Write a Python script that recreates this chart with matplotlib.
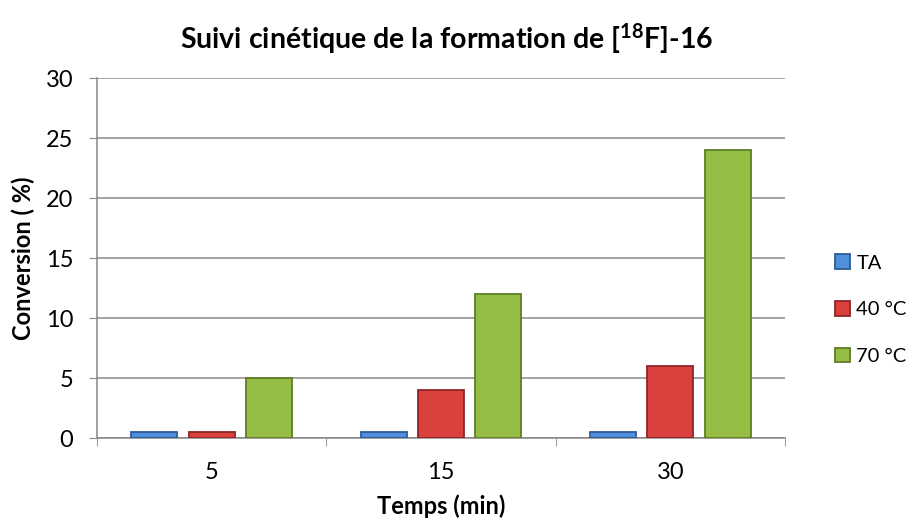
import numpy as np
import matplotlib
matplotlib.use("Agg")
import matplotlib.pyplot as plt

plt.rcParams['font.family'] = ['Lato', 'DejaVu Sans']
plt.rcParams['mathtext.fontset'] = 'custom'
plt.rcParams['mathtext.rm'] = 'Lato'
plt.rcParams['mathtext.bf'] = 'Lato:bold'

# data
temps = ['5', '15', '30']
series_names = ['TA', '40 °C', '70 °C']
ta = [0.5, 0.5, 0.5]
c40 = [0.5, 4, 6]
c70 = [5, 12, 24]
values = [ta, c40, c70]

face_colors = ['#4F8FDC', '#D9413F', '#96BE45']
edge_colors = ['#2E5C99', '#8E2624', '#5E7D25']

fig = plt.figure(figsize=(9.08, 5.25), dpi=100)
ax = fig.add_axes([0.1068, 0.1657, 0.7577, 0.6857])

x = np.arange(len(temps))
width = 0.2
offsets = [-0.25, 0, 0.25]
handles = []
for vals, off, fc, ec, name in zip(values, offsets, face_colors, edge_colors, series_names):
    b = ax.bar(x + off, vals, width, color=fc, edgecolor=ec, linewidth=1.3, label=name, zorder=3)
    handles.append(b)

ax.set_xlim(-0.5, 2.5)
ax.set_ylim(0, 30)
ax.set_yticks(range(0, 31, 5))
ax.set_xticks(x)
ax.set_xticklabels(temps)
ax.set_xticks([-0.5, 0.5, 1.5, 2.5], minor=True)
ax.tick_params(axis='x', which='major', length=0, labelsize=17, pad=17)
ax.tick_params(axis='x', which='minor', length=6, color='#868686', direction='out')
ax.tick_params(axis='y', length=6, color='#868686', labelsize=17, pad=11)
ax.yaxis.grid(True, color='#8C8C8C', linewidth=1.1, zorder=0)
ax.set_axisbelow(True)
for s in ['top', 'right']:
    ax.spines[s].set_visible(False)
for s in ['left', 'bottom']:
    ax.spines[s].set_color('#868686')
    ax.spines[s].set_linewidth(1.1)

ax.set_xlabel('Temps (min)', fontsize=17, fontweight='bold')
ax.xaxis.set_label_coords(0.5, -0.158)
ax.set_ylabel('Conversion ( %)', fontsize=17, fontweight='bold')
ax.yaxis.set_label_coords(-0.09, 0.5)
fig.text(0.492, 0.927, r'Suivi cinétique de la formation de [$\mathbf{^{18}}$F]-16',
         ha='center', va='center', fontsize=20.5, fontweight='bold')

fig.legend(handles=handles, labels=series_names, loc='center left',
           bbox_to_anchor=(0.9, 0.41), frameon=False, fontsize=14.5,
           handlelength=0.75, handleheight=0.75, handletextpad=0.3, labelspacing=1.45)

fig.savefig('out.png', dpi=100)
